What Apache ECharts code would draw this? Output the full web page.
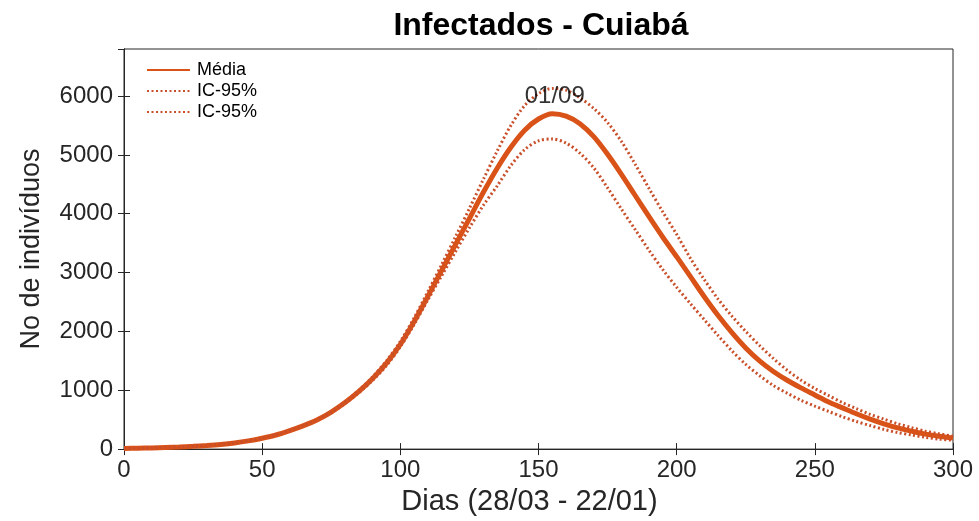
<!DOCTYPE html>
<html>
<head>
<meta charset="utf-8">
<script src="https://cdn.jsdelivr.net/npm/echarts@6/dist/echarts.min.js"></script>
<style>
html,body{margin:0;padding:0;background:#fff;}
#chart{width:979px;height:521px;}
</style>
</head>
<body>
<div id="chart"></div>
<script>
const titleText = 'Infectados - Cuiabá';
const xName = 'Dias (28/03 - 22/01)';
const yName = 'No de indivíduos';
const seriesNames = ['Média', 'IC-95%', 'IC-95% '];
const annotText = '01/09';
const annotPoint = [145, 6000];
const xTicks = [0, 50, 100, 150, 200, 250, 300];
const yTicks = [0, 1000, 2000, 3000, 4000, 5000, 6000];

const days = [0,5,10,15,20,25,30,35,40,45,50,55,60,65,70,75,80,85,90,95,100,
  105,110,115,120,125,130,135,140,145,150,155,160,165,170,175,180,185,190,195,200,
  205,210,215,220,225,230,235,240,245,250,255,260,265,270,275,280,285,290,295,300];

const media = [10,15,20,28,36,48,62,80,105,140,185,240,315,400,500,630,790,980,1200,1460,1780,
  2170,2600,3040,3480,3920,4360,4770,5130,5420,5610,5700,5660,5530,5310,5010,4670,4310,3950,3600,3270,
  2930,2590,2270,1980,1720,1500,1320,1170,1040,920,800,700,600,510,430,360,305,255,220,190];

const icSup = [10,15,20,28,36,48,62,80,105,140,185,240,315,400,505,640,805,1000,1230,1500,1830,
  2230,2680,3140,3610,4090,4580,5060,5500,5840,6040,6130,6100,5970,5790,5550,5230,4840,4430,4030,3650,
  3240,2880,2550,2260,2000,1760,1540,1340,1170,1030,910,790,690,590,510,430,365,305,260,220];

const icInf = [10,15,20,28,36,48,62,80,105,140,185,240,315,400,495,620,775,960,1170,1420,1740,
  2120,2540,2950,3360,3760,4140,4470,4820,5090,5240,5270,5200,5030,4780,4440,4080,3730,3380,3050,2750,
  2470,2200,1930,1670,1440,1250,1080,950,830,730,640,550,470,400,335,280,240,200,170,150];

const toPairs = (xs, ys) => xs.map((x, i) => [x, ys[i]]);

const C = '#D95319';
const CD = '#C94F2A';
const AX = '#262626';
const FONT = 'Liberation Sans, Arial, Helvetica, sans-serif';

const chart = echarts.init(document.getElementById('chart'), null, {renderer: 'canvas'});

const axisCommon = {
  axisLine: {show: true, lineStyle: {color: AX, width: 1}},
  axisTick: {show: true, inside: true, length: 6, lineStyle: {color: AX, width: 1}},
  splitLine: {show: false}
};

chart.setOption({
  animation: false,
  backgroundColor: '#fff',
  title: {
    text: titleText,
    left: 536, textAlign: 'center', top: 5,
    textStyle: {fontFamily: FONT, fontSize: 32, fontWeight: 'bold', color: '#000'}
  },
  legend: {
    orient: 'vertical',
    left: 141, top: 56,
    itemWidth: 43, itemHeight: 14, itemGap: 3,
    data: seriesNames,
    itemStyle: {color: 'rgba(0,0,0,0)', borderColor: 'rgba(0,0,0,0)', borderWidth: 0, opacity: 0},
    textStyle: {fontFamily: FONT, fontSize: 18, color: '#000', padding: [0,0,0,2]},
    selectedMode: false
  },
  grid: {left: 124, right: 26, top: 49, bottom: 69, show: true, borderColor: AX, borderWidth: 1},
  xAxis: [
    Object.assign({
      type: 'value', min: xTicks[0], max: xTicks[xTicks.length-1], interval: 50,
      position: 'bottom',
      name: xName, nameLocation: 'middle', nameGap: 37,
      nameTextStyle: {fontFamily: FONT, fontSize: 29, color: AX, padding: [0, 18, 0, 0]},
      axisLabel: {fontFamily: FONT, fontSize: 24, color: AX, margin: 9}
    }, axisCommon),
    Object.assign({
      type: 'value', min: xTicks[0], max: xTicks[xTicks.length-1], interval: 50,
      position: 'top', axisLabel: {show: false}
    }, axisCommon)
  ],
  yAxis: [
    Object.assign({
      type: 'value', min: 0, max: 6800, interval: 1000,
      position: 'left',
      name: yName, nameLocation: 'middle', nameGap: 79, nameRotate: 90,
      nameTextStyle: {fontFamily: FONT, fontSize: 27, color: AX},
      axisLabel: {fontFamily: FONT, fontSize: 24, color: AX, margin: 11, showMaxLabel: false,
        formatter: v => (yTicks.indexOf(v) >= 0 ? String(v) : '')}
    }, axisCommon),
    Object.assign({
      type: 'value', min: 0, max: 6800, interval: 1000,
      position: 'right', axisLabel: {show: false}
    }, axisCommon)
  ],
  series: [
    {
      name: seriesNames[0], type: 'line', smooth: 0.3, symbol: 'none',
      data: toPairs(days, media),
      lineStyle: {color: C, width: 5},
      itemStyle: {color: C},
      z: 2
    },
    {
      name: seriesNames[1], type: 'line', smooth: 0.3, symbol: 'none',
      data: toPairs(days, icSup),
      lineStyle: {color: CD, width: 3, type: [2, 2.5]},
      itemStyle: {color: CD},
      z: 3
    },
    {
      name: seriesNames[2], type: 'line', smooth: 0.3, symbol: 'none',
      data: toPairs(days, icInf),
      lineStyle: {color: CD, width: 3, type: [2, 2.5]},
      itemStyle: {color: CD},
      z: 3
    },
    {
      name: 'annot', type: 'scatter', symbolSize: 0,
      data: [annotPoint],
      label: {show: true, position: 'right', distance: 0, formatter: annotText,
        fontFamily: FONT, fontSize: 24, color: '#000'},
      silent: true, z: 5
    }
  ]
});
</script>
</body>
</html>
